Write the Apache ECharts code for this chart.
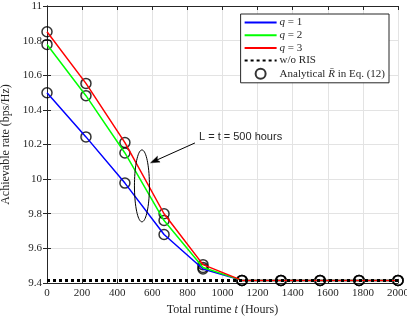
<!DOCTYPE html>
<html>
<head>
<meta charset="utf-8">
<script src="https://cdn.jsdelivr.net/npm/echarts@6/dist/echarts.min.js"></script>
<style>html,body{margin:0;padding:0;background:#fff;}#c{width:407px;height:320px;}</style>
</head>
<body>
<div id="c"></div>
<script>
// ---- data ----
var runtimes = [0, 222, 444, 667, 889, 1111, 1333, 1556, 1778, 2000];
var rateQ1 = [10.499, 10.244, 9.977, 9.680, 9.481, 9.415, 9.415, 9.415, 9.415, 9.415];
var rateQ2 = [10.778, 10.482, 10.151, 9.761, 9.490, 9.415, 9.415, 9.415, 9.415, 9.415];
var rateQ3 = [10.851, 10.553, 10.211, 9.800, 9.506, 9.415, 9.415, 9.415, 9.415, 9.415];
var rateNoRIS = [9.415, 9.415];
var noRISx = [0, 2000];
var xTicks = [0, 200, 400, 600, 800, 1000, 1200, 1400, 1600, 1800, 2000];
var yTicks = [9.4, 9.6, 9.8, 10, 10.2, 10.4, 10.6, 10.8, 11];
var annotationText = 'L = t = 500 hours';

function pairs(xs, ys) { return xs.map(function (x, i) { return [x, ys[i]]; }); }

var serif = 'Liberation Serif';
var txt = '#262626';
var chart = echarts.init(document.getElementById('c'), null, { renderer: 'canvas' });

var analytical = pairs(runtimes, rateQ1).concat(pairs(runtimes, rateQ2), pairs(runtimes, rateQ3));

var axisCommonX = {
  type: 'value', min: xTicks[0], max: xTicks[xTicks.length - 1], interval: 200,
  axisLine: { show: true, lineStyle: { color: '#262626', width: 1 } },
  axisTick: { show: true, inside: true, length: 4, lineStyle: { color: '#262626' } }
};
var axisCommonY = {
  type: 'value', min: yTicks[0], max: yTicks[yTicks.length - 1], interval: 0.2,
  axisLine: { show: true, lineStyle: { color: '#262626', width: 1 } },
  axisTick: { show: true, inside: true, length: 4, lineStyle: { color: '#262626' } }
};
var noSym = { color: 'rgba(0,0,0,0)', borderWidth: 0, opacity: 0 };

var option = {
  animation: false,
  backgroundColor: '#fff',
  grid: { left: 47, right: 9, top: 6, bottom: 37, containLabel: false, outerBoundsMode: 'none' },
  xAxis: [
    Object.assign({}, axisCommonX, {
      position: 'bottom',
      name: '{n|Total runtime }{i|t}{n| (Hours)}',
      nameLocation: 'middle', nameGap: 17,
      nameTextStyle: { rich: {
        n: { fontFamily: serif, fontSize: 12, color: txt },
        i: { fontFamily: serif, fontSize: 12, color: txt, fontStyle: 'italic' } } },
      axisLabel: { fontFamily: serif, fontSize: 11, color: txt, margin: 5,
        formatter: function (v) { return String(v); } },
      splitLine: { show: true, lineStyle: { color: '#e3e3e3', width: 1 } }
    }),
    Object.assign({}, axisCommonX, {
      position: 'top', axisLabel: { show: false }, splitLine: { show: false }
    })
  ],
  yAxis: [
    Object.assign({}, axisCommonY, {
      position: 'left',
      name: 'Achievable rate (bps/Hz)',
      nameLocation: 'middle', nameGap: 26, nameRotate: 90,
      nameTextStyle: { fontFamily: serif, fontSize: 12, color: txt },
      axisLabel: { fontFamily: serif, fontSize: 11, color: txt, margin: 5 },
      splitLine: { show: true, lineStyle: { color: '#e3e3e3', width: 1 } }
    }),
    Object.assign({}, axisCommonY, {
      position: 'right', axisLabel: { show: false }, splitLine: { show: false }
    })
  ],
  legend: {
    orient: 'vertical', right: 18, top: 14,
    padding: [3, 4, 3, 3], itemGap: 1.7, itemWidth: 32, itemHeight: 10,
    backgroundColor: '#fff', borderColor: '#262626', borderWidth: 1, borderRadius: 0,
    data: [
      { name: 'q = 1', itemStyle: noSym },
      { name: 'q = 2', itemStyle: noSym },
      { name: 'q = 3', itemStyle: noSym },
      { name: 'w/o RIS', itemStyle: noSym },
      { name: 'Analytical R̄ in Eq. (12)' }
    ],
    formatter: function (name) {
      if (name.charAt(0) === 'q') return '{i|q}{n|' + name.slice(1) + '}';
      if (name.indexOf('Analytical') === 0) return '{n|Analytical }{i|R̄}{n| in Eq. (12)}';
      return '{n|' + name + '}';
    },
    textStyle: { fontFamily: serif, fontSize: 11, color: txt, padding: [0, 0, 0, -2],
      rich: {
        n: { fontFamily: serif, fontSize: 11, color: txt },
        i: { fontFamily: serif, fontSize: 11, color: txt, fontStyle: 'italic' } } }
  },
  series: [
    { name: 'q = 1', type: 'line', data: pairs(runtimes, rateQ1), symbol: 'none',
      lineStyle: { color: '#0000ff', width: 1.5 }, itemStyle: { color: '#0000ff' } },
    { name: 'q = 2', type: 'line', data: pairs(runtimes, rateQ2), symbol: 'none',
      lineStyle: { color: '#00ff00', width: 1.5 }, itemStyle: { color: '#00ff00' } },
    { name: 'q = 3', type: 'line', data: pairs(runtimes, rateQ3), symbol: 'none',
      lineStyle: { color: '#ff0000', width: 1.5 }, itemStyle: { color: '#ff0000' } },
    { name: 'w/o RIS', type: 'line', data: pairs(noRISx, rateNoRIS), symbol: 'none',
      lineStyle: { color: '#000', width: 3, type: [3, 3] }, itemStyle: { color: '#000' } },
    { name: 'Analytical R̄ in Eq. (12)', type: 'scatter', data: analytical,
      symbol: 'circle', symbolSize: 10,
      itemStyle: { color: 'rgba(0,0,0,0)', borderColor: '#000', borderWidth: 1.5 } }
  ]
};
chart.setOption(option);

// ---- annotation (ellipse, arrow, text), positioned in data units ----
var ell = { cx: 541, cy: 9.961, rx: 42.7, ry: 0.2076 };
var arrowFrom = [843, 10.209], arrowTo = [590, 10.094];
var textAt = [866, 10.244];

function px(p) { return chart.convertToPixel({ xAxisIndex: 0, yAxisIndex: 0 }, p); }
var c = px([ell.cx, ell.cy]);
var e1 = px([ell.cx + ell.rx, ell.cy + ell.ry]);
var rxp = Math.abs(e1[0] - c[0]), ryp = Math.abs(e1[1] - c[1]);
var pts = [];
for (var k = 0; k < 72; k++) {
  var a = k / 72 * Math.PI * 2;
  pts.push([c[0] + rxp * Math.cos(a), c[1] + ryp * Math.sin(a)]);
}
var a0 = px(arrowFrom), a1 = px(arrowTo);
var dx = a1[0] - a0[0], dy = a1[1] - a0[1], L = Math.sqrt(dx * dx + dy * dy);
var ux = dx / L, uy = dy / L, hl = 9, hw = 3.2;
var base = [a1[0] - ux * hl, a1[1] - uy * hl];
var head = [a1, [base[0] - uy * hw, base[1] + ux * hw], [a1[0] - ux * hl * 0.8, a1[1] - uy * hl * 0.8], [base[0] + uy * hw, base[1] - ux * hw]];
var tp = px(textAt);

chart.setOption({
  graphic: [
    { type: 'polygon', shape: { points: pts }, style: { fill: 'none', stroke: '#000', lineWidth: 1 }, z: 100, silent: true },
    { type: 'line', shape: { x1: a0[0], y1: a0[1], x2: base[0] + ux * 2, y2: base[1] + uy * 2 }, style: { stroke: '#000', lineWidth: 1 }, z: 100, silent: true },
    { type: 'polygon', shape: { points: head }, style: { fill: '#000', stroke: '#000', lineWidth: 0.5 }, z: 100, silent: true },
    { type: 'text', x: tp[0], y: tp[1], style: { text: annotationText, fontFamily: 'Liberation Sans', fontSize: 11, fill: '#262626', textVerticalAlign: 'middle', textAlign: 'left' }, z: 100, silent: true }
  ]
});
</script>
</body>
</html>
